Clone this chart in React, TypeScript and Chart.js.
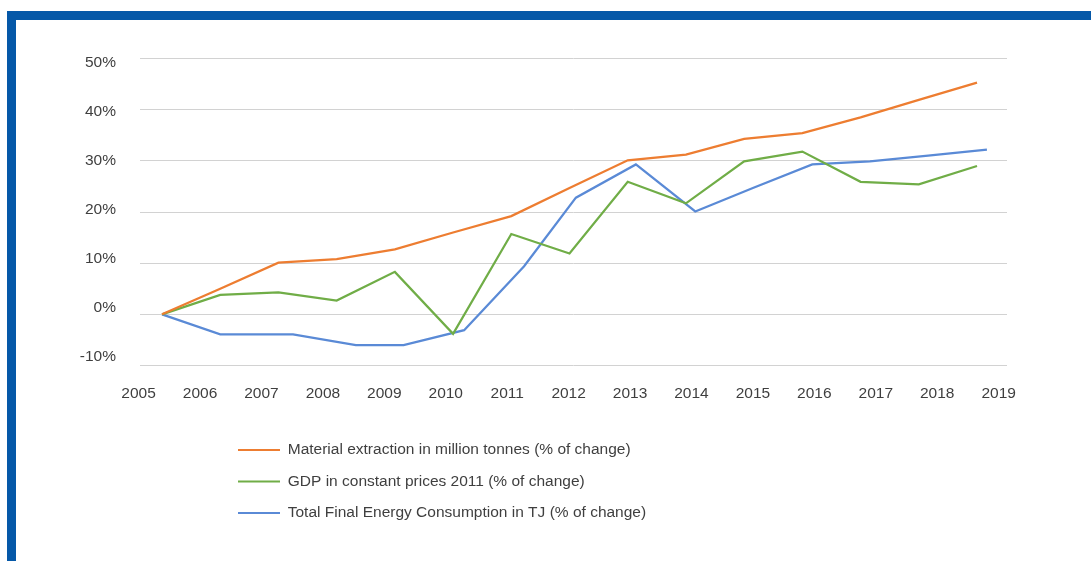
import React, { useEffect, useRef } from "react";
import { Chart, registerables } from "chart.js";

Chart.register(...registerables);

// ---- data ----
const YEARS = [2005, 2006, 2007, 2008, 2009, 2010, 2011, 2012, 2013, 2014, 2015, 2016, 2017, 2018, 2019];
const MATERIAL = [0, 5.0, 10.1, 10.8, 12.7, 16.0, 19.2, 24.7, 30.1, 31.2, 34.3, 35.4, 38.5, 41.9, 45.3];
const GDP = [0, 3.8, 4.3, 2.7, 8.3, -3.8, 15.7, 11.9, 25.9, 21.7, 29.9, 31.8, 25.9, 25.4, 29.0];
const ENERGY_YEARS = [2005, 2006, 2007.25, 2008.33, 2009.15, 2010.19, 2011.22, 2012.11, 2013.14, 2014.16, 2015.15, 2016.17, 2017.16, 2018.16, 2019.17];
const ENERGY = [0, -3.9, -3.9, -6.0, -6.0, -3.1, 9.4, 22.8, 29.3, 20.1, 24.7, 29.3, 29.9, 31.0, 32.2];
const Y_TICKS = [-10, 0, 10, 20, 30, 40, 50];
const SERIES_NAMES = [
  "Material extraction in million tonnes (% of change)",
  "GDP in constant prices 2011 (% of change)",
  "Total Final Energy Consumption in TJ (% of change)",
];
const SERIES_COLORS = ["#ED7D31", "#70AD47", "#5A8AD6"];

// ---- style / layout constants ----
const FONT = { family: '"Liberation Sans", Arial, Helvetica, sans-serif', size: 15.5 };
const TEXT = "#3f3f3f";
const GRID = "#d2d2d2";
const FRAME = "#0558a8";
const LEGEND_LEFT = 206;

const stackedLegend = {
  id: "stackedLegend",
  beforeLayout(chart: any) {
    const lg = chart.legend;
    if (!lg || lg.__stacked) return;
    lg.__stacked = true;
    const fitRows = lg._fitRows;
    lg._fitRows = function (...args: any[]) {
      const mw = this.maxWidth;
      this.maxWidth = 1;
      const h = fitRows.apply(this, args);
      this.maxWidth = mw;
      return h;
    };
    const innerDraw = lg._draw;
    lg._draw = function (...args: any[]) {
      const left = this.left;
      const right = this.right;
      this.left = LEGEND_LEFT;
      this.right = LEGEND_LEFT + 1;
      innerDraw.apply(this, args);
      this.left = left;
      this.right = right;
    };
  },
};

export default function App() {
  const ref = useRef<HTMLCanvasElement | null>(null);

  useEffect(() => {
    if (!ref.current) return;
    const chart = new Chart(ref.current, {
      type: "line",
      data: {
        labels: YEARS,
        datasets: [
          {
            label: SERIES_NAMES[0],
            data: MATERIAL,
            borderColor: SERIES_COLORS[0],
            backgroundColor: SERIES_COLORS[0],
            xAxisID: "x",
            yAxisID: "y",
          },
          {
            label: SERIES_NAMES[1],
            data: GDP,
            borderColor: SERIES_COLORS[1],
            backgroundColor: SERIES_COLORS[1],
            xAxisID: "x",
            yAxisID: "y",
          },
          {
            label: SERIES_NAMES[2],
            data: ENERGY.map((v, i) => ({ x: ENERGY_YEARS[i], y: v })),
            borderColor: SERIES_COLORS[2],
            backgroundColor: SERIES_COLORS[2],
            xAxisID: "x",
            yAxisID: "y",
          },
        ],
      },
      options: {
        animation: false,
        responsive: false,
        maintainAspectRatio: false,
        devicePixelRatio: 1,
        elements: {
          line: { borderWidth: 2.25, tension: 0, fill: false },
          point: { radius: 0, hoverRadius: 0 },
        },
        layout: { padding: { left: 0, top: 38.5, right: 84, bottom: 30.25 } },
        scales: {
          x: {
            type: "linear",
            display: false,
            min: 2004.622,
            max: 2019.515,
          },
          xl: {
            type: "linear",
            axis: "x",
            position: "bottom",
            bounds: "data",
            min: 2005.023,
            max: 2019.136,
            grid: { display: false, drawTicks: false },
            border: { display: false },
            ticks: {
              autoSkip: false,
              maxRotation: 0,
              padding: 18.5,
              color: TEXT,
              font: FONT,
              callback: (v: any) => String(v),
            },
            afterBuildTicks: (axis: any) => {
              axis.ticks = YEARS.map((v) => ({ value: v }));
            },
            afterFit: (axis: any) => {
              axis.height = 60.75;
            },
          },
          y: {
            type: "linear",
            position: "left",
            min: -10,
            max: 50,
            ticks: { display: false, stepSize: 10 },
            grid: { color: GRID, lineWidth: 1, drawTicks: false },
            border: { display: false },
            afterFit: (axis: any) => {
              axis.width = 0;
            },
          },
          yl: {
            type: "linear",
            axis: "y",
            position: "left",
            bounds: "data",
            min: -11.86,
            max: 50.88,
            grid: { display: false, drawTicks: false },
            border: { display: false },
            ticks: {
              padding: 24,
              color: TEXT,
              font: FONT,
              callback: (v: any) => `${v}%`,
            },
            afterBuildTicks: (axis: any) => {
              axis.ticks = Y_TICKS.map((v) => ({ value: v }));
            },
            afterFit: (axis: any) => {
              axis.width = 124;
            },
          },
        },
        plugins: {
          tooltip: { enabled: false },
          legend: {
            display: true,
            position: "bottom",
            align: "start",
            labels: {
              color: TEXT,
              font: FONT,
              boxWidth: 42,
              boxHeight: 2,
              padding: 16,
              generateLabels: (c: any) =>
                (Chart.defaults.plugins.legend.labels as any)
                  .generateLabels(c)
                  .map((it: any) => ({ ...it, lineWidth: 0, fillStyle: it.strokeStyle })),
            },
          },
        },
      },
      plugins: [stackedLegend],
    } as any);
    return () => chart.destroy();
  }, []);

  return (
    <div
      style={{
        position: "absolute",
        left: 7,
        top: 11,
        width: 1084,
        height: 550,
        boxSizing: "border-box",
        borderTop: `9px solid ${FRAME}`,
        borderLeft: `9px solid ${FRAME}`,
        background: "#ffffff",
        overflow: "hidden",
      }}
    >
      <canvas ref={ref} width={1075} height={541} style={{ display: "block", width: 1075, height: 541 }} />
    </div>
  );
}
